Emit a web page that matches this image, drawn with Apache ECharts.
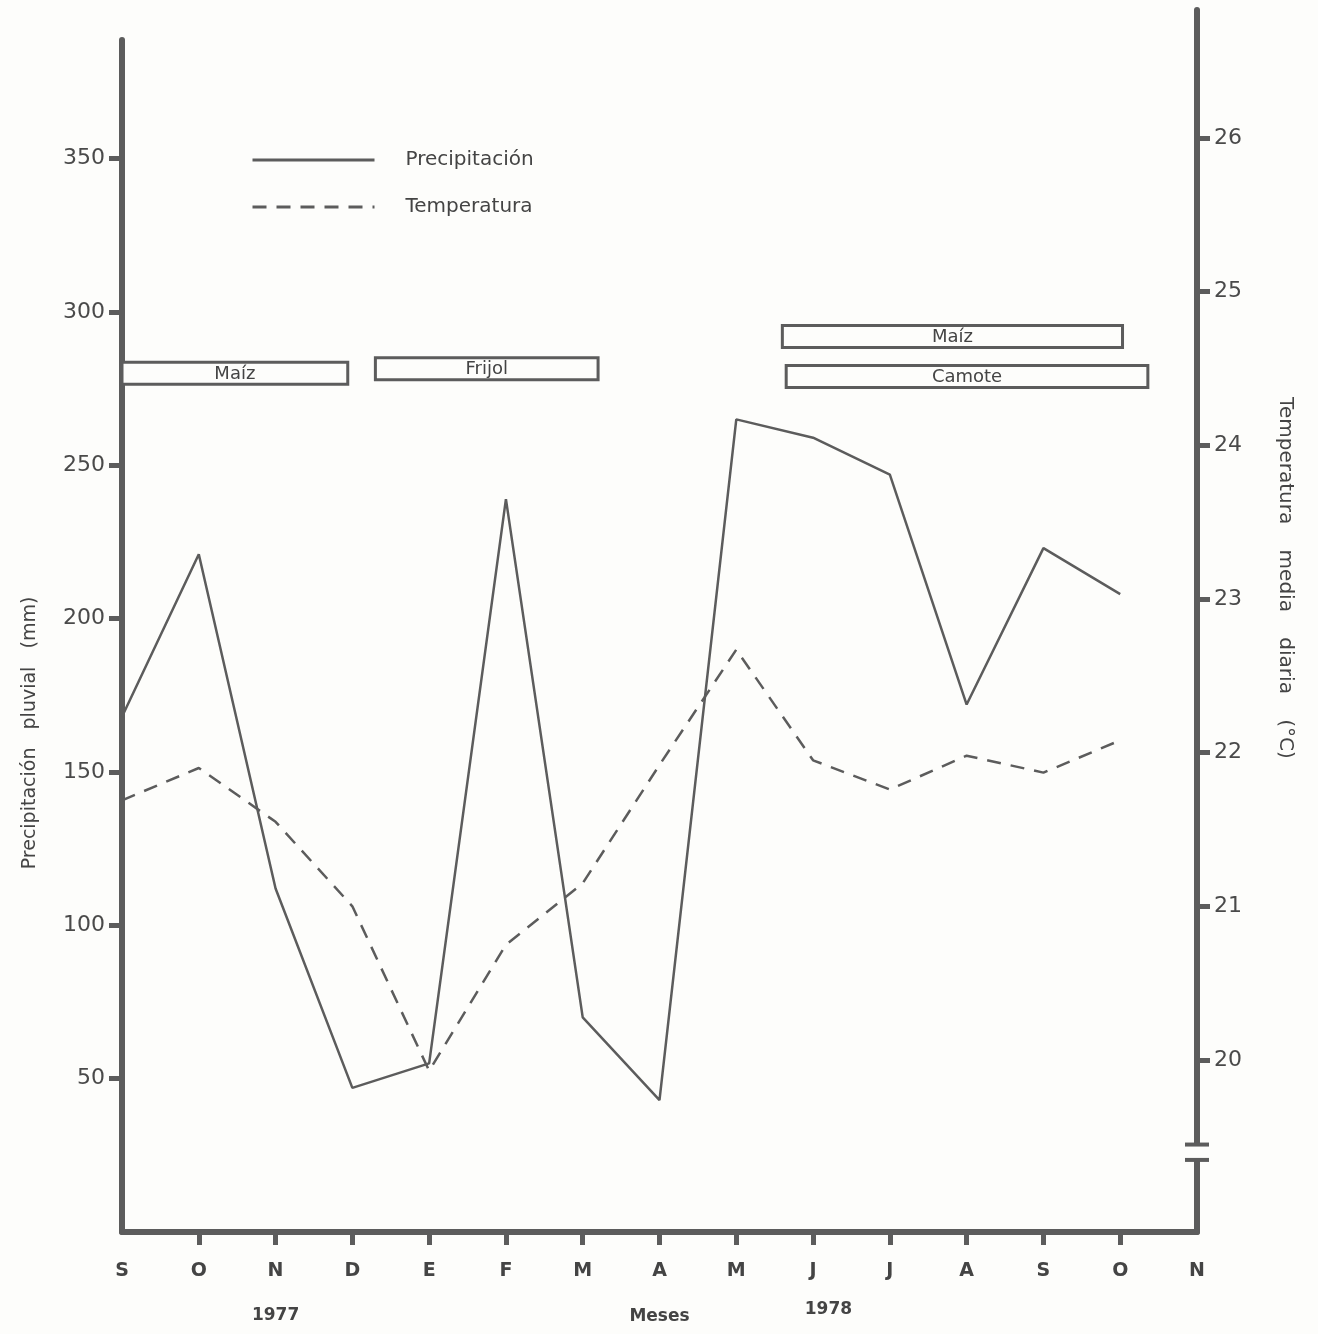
<!DOCTYPE html>
<html>
<head>
<meta charset="utf-8">
<script src="https://cdn.jsdelivr.net/npm/echarts@6/dist/echarts.min.js"></script>
<style>
html,body{margin:0;padding:0;background:#fdfdfb;}
#chart{width:1318px;height:1334px;}
</style>
</head>
<body>
<div id="chart"></div>
<script>
// months from Sept 1977 to Nov 1978
var months = ['S','O','N','D','E','F','M','A','M','J','J','A','S','O','N'];
var precipitacion = [168,221,112,47,55,239,70,43,265,259,247,172,223,208];
var temperatura = [21.69,21.9,21.55,21.0,19.93,20.75,21.15,21.92,22.67,21.95,21.76,21.98,21.87,22.08];
var precipTicks = [50,100,150,200,250,300,350];
var tempTicks = [20,21,22,23,24,25,26];
var monthTicks = [1,2,3,4,5,6,7,8,9,10,11,12,13];

// crop periods (boxes)
var cultivoNombres = ['Maíz','Frijol','Maíz','Camote'];
var cultivoInicio = [0,3.3,8.6,8.65];
var cultivoFin = [2.94,6.2,13.03,13.36];
var cultivoNivel = [280,281.5,292,279];

var years = ['1977','1978'];
var yearPos = [2,9.2];

var gris = '#5c5c5c';
var fuente = 'DejaVu Sans';

var myChart = echarts.init(document.getElementById('chart'));

var precData = precipitacion.map(function(v,i){ return [i,v]; });
var tempData = temperatura.map(function(v,i){ return [i,v]; });
var cajas = cultivoNombres.map(function(n,i){
    return [cultivoInicio[i], cultivoFin[i], cultivoNivel[i], n];
});

var option = {
    backgroundColor:'#fdfdfb',
    animation:false,
    grid:[
        {left:122, right:121, top:40, bottom:102},
        {left:122, right:121, top:10, bottom:102}
    ],
    legend:{
        orient:'vertical',
        left:246, top:145,
        itemWidth:122, itemHeight:14, itemGap:27,
        itemStyle:{opacity:0},
        lineStyle:{width:3},
        data:['Precipitación','Temperatura'],
        textStyle:{color:'#444', fontSize:20, fontFamily:fuente, padding:[0,0,0,26]}
    },
    xAxis:[
        {
            type:'value', gridIndex:0, min:0, max:14, interval:1,
            splitLine:{show:false},
            axisLine:{onZero:false, lineStyle:{color:gris, width:6}},
            axisTick:{length:13, customValues:monthTicks, lineStyle:{color:gris, width:5}},
            axisLabel:{margin:30, color:'#444', fontSize:19, fontFamily:fuente, fontWeight:'bold',
                formatter:function(v){ return months[v] || ''; }},
            name:'Meses', nameLocation:'middle', nameGap:76,
            nameTextStyle:{color:'#444', fontSize:17, fontFamily:fuente, fontWeight:'bold'}
        },
        {
            type:'value', gridIndex:1, min:0, max:14, show:false,
            axisLine:{onZero:false}
        }
    ],
    yAxis:[
        {
            type:'value', gridIndex:0, min:0, max:388.7, position:'left',
            splitLine:{show:false},
            axisLine:{show:true, onZero:false, lineStyle:{color:gris, width:6}},
            axisTick:{show:true, length:13, customValues:precipTicks, lineStyle:{color:gris, width:5}},
            axisLabel:{margin:17, color:'#4a4a4a', fontSize:22, fontFamily:fuente, customValues:precipTicks}
        },
        {
            type:'value', gridIndex:1, min:18.881, max:26.832, position:'right',
            splitLine:{show:false},
            axisLine:{show:true, onZero:false, lineStyle:{color:gris, width:6}},
            axisTick:{show:true, length:13, customValues:tempTicks, lineStyle:{color:gris, width:5}},
            axisLabel:{margin:17, color:'#4a4a4a', fontSize:22, fontFamily:fuente, customValues:tempTicks}
        }
    ],
    series:[
        {
            name:'Precipitación', type:'line', xAxisIndex:0, yAxisIndex:0,
            data:precData, symbol:'none',
            lineStyle:{color:gris, width:2.5}, itemStyle:{color:gris}
        },
        {
            name:'Temperatura', type:'line', xAxisIndex:1, yAxisIndex:1,
            data:tempData, symbol:'none',
            lineStyle:{color:gris, width:2.5, type:[14,10]}, itemStyle:{color:gris}
        },
        {
            type:'custom', xAxisIndex:0, yAxisIndex:0, silent:true,
            data:cajas,
            renderItem:function(params, api){
                var p0 = api.coord([api.value(0), api.value(2)]);
                var p1 = api.coord([api.value(1), api.value(2)]);
                var h = 22;
                return {
                    type:'group',
                    children:[
                        {type:'rect', shape:{x:p0[0], y:p0[1]-h/2, width:p1[0]-p0[0], height:h},
                         style:{fill:'#fdfdfb', stroke:gris, lineWidth:3}},
                        {type:'text', style:{text:cultivoNombres[params.dataIndex], x:(p0[0]+p1[0])/2, y:p0[1]+1,
                         align:'center', verticalAlign:'middle', fill:'#444', fontSize:18, fontFamily:fuente}}
                    ]
                };
            }
        }
    ]
};

myChart.setOption(option);

// extra texts and the axis break, placed from the axes
var extra = [];
years.forEach(function(y,i){
    var px = myChart.convertToPixel({xAxisIndex:0}, yearPos[i]);
    extra.push({type:'text', x:px, y:1316 - i*6, style:{text:y, align:'center', verticalAlign:'middle',
        fill:'#444', fontSize:17, fontFamily:fuente, fontWeight:'bold'}});
});
extra.push({type:'text', x:30, y:733, rotation:Math.PI/2,
    style:{text:'Precipitación   pluvial   (mm)', align:'center', verticalAlign:'middle',
        fill:'#444', fontSize:19, fontFamily:fuente}});
extra.push({type:'text', x:1285, y:578, rotation:-Math.PI/2,
    style:{text:'Temperatura    media    diaria    (°C)', align:'center', verticalAlign:'middle',
        fill:'#444', fontSize:20, fontFamily:fuente}});

var ax = 1318 - 121;
var b1 = myChart.convertToPixel({yAxisIndex:1}, 19.45);
var b2 = myChart.convertToPixel({yAxisIndex:1}, 19.35);
extra.push({type:'rect', shape:{x:ax-6, y:b1, width:12, height:b2-b1}, style:{fill:'#fdfdfb'}, z:100});
extra.push({type:'line', shape:{x1:ax-12, y1:b1, x2:ax+12, y2:b1}, style:{stroke:gris, lineWidth:4}, z:101});
extra.push({type:'line', shape:{x1:ax-12, y1:b2, x2:ax+12, y2:b2}, style:{stroke:gris, lineWidth:4}, z:101});

myChart.setOption({graphic:extra});
</script>
</body>
</html>
